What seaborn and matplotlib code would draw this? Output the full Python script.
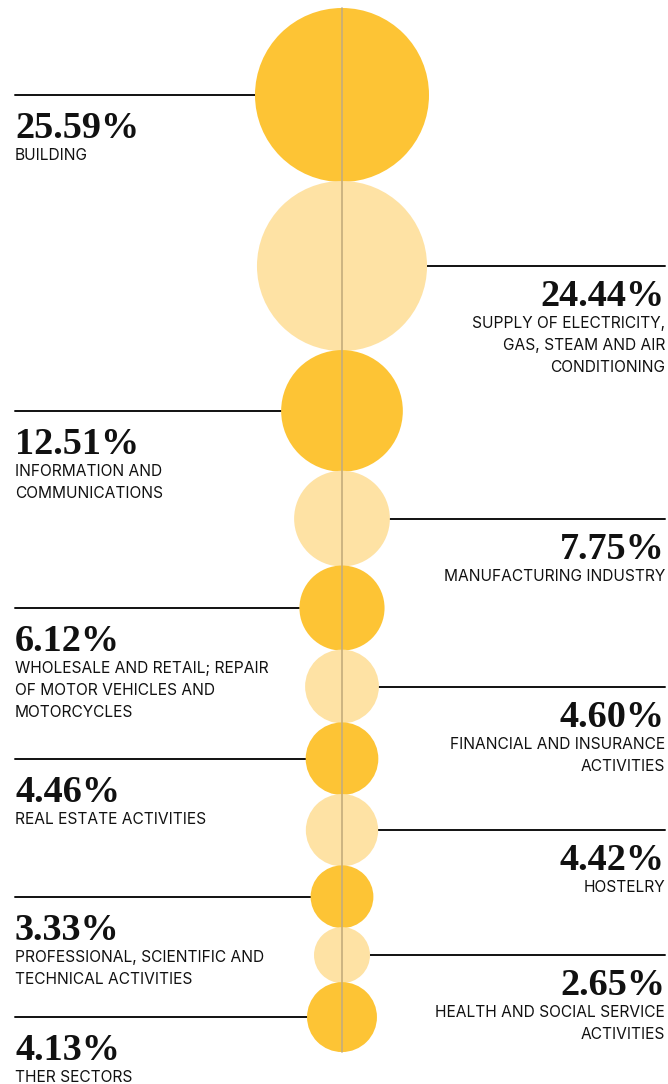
import numpy as np
import pandas as pd
import matplotlib
matplotlib.use("Agg")
import matplotlib.pyplot as plt
import seaborn as sns

# ---- data ----
sectors = [
    "BUILDING",
    "SUPPLY OF ELECTRICITY,\nGAS, STEAM AND AIR\nCONDITIONING",
    "INFORMATION AND\nCOMMUNICATIONS",
    "MANUFACTURING INDUSTRY",
    "WHOLESALE AND RETAIL; REPAIR\nOF MOTOR VEHICLES AND\nMOTORCYCLES",
    "FINANCIAL AND INSURANCE\nACTIVITIES",
    "REAL ESTATE ACTIVITIES",
    "HOSTELRY",
    "PROFESSIONAL, SCIENTIFIC AND\nTECHNICAL ACTIVITIES",
    "HEALTH AND SOCIAL SERVICE\nACTIVITIES",
    "THER SECTORS",
]
shares = [25.59, 24.44, 12.51, 7.75, 6.12, 4.60, 4.46, 4.42, 3.33, 2.65, 4.13]
sides = ["left", "right", "left", "right", "left", "right", "left", "right", "left", "right", "left"]
tones = ["dark", "light", "dark", "light", "dark", "light", "dark", "light", "dark", "light", "dark"]

DARK = "#FDC435"
LIGHT = "#FEE2A4"
W, H, DPI = 668, 1084, 100
CX = 342
K = 17.2  # pixel radius per sqrt(percentage)

sns.set_theme(style="white")
fig = plt.figure(figsize=(W / DPI, H / DPI), dpi=DPI)
ax = fig.add_axes([0, 0, 1, 1])

radii = K * np.sqrt(np.array(shares))
centers = []
y = 8.0
for i, r in enumerate(radii):
    if i == 0:
        y = 8 + r
    else:
        y = y + radii[i - 1] + r - 1.0
    centers.append(y)
centers = np.array(centers)

df = pd.DataFrame({"x": CX, "y": centers, "tone": tones, "r": radii})
# marker size in pt^2: diameter in points = 2*r px * 72/DPI
df["s"] = (2 * df["r"] * 72 / DPI) ** 2
sns.scatterplot(data=df, x="x", y="y", hue="tone", palette={"dark": DARK, "light": LIGHT},
                s=df["s"].values, linewidth=0, legend=False, ax=ax, zorder=2)
ax.set_xlim(0, W)
ax.set_ylim(H, 0)
ax.axis("off")

# vertical axis line
ax.plot([CX, CX], [8, centers[-1] + radii[-1]], color="#C4AC7C", lw=1.2, zorder=3)

pct_font = dict(family="Liberation Serif", weight="bold", size=27.5, color="#111111")
lab_font = dict(family=["Inter", "DejaVu Sans"], size=11.2, color="#111111")

for sec, v, side, cy, r in zip(sectors, shares, sides, centers, radii):
    if side == "left":
        ax.plot([15, CX - r], [cy, cy], color="#111111", lw=1.4, zorder=1)
        ax.text(15, cy + 43, f"{v:.2f}%", ha="left", va="baseline", **pct_font)
        for j, line in enumerate(sec.split("\n")):
            ax.text(15, cy + 65 + 22 * j, line, ha="left", va="baseline", **lab_font)
    else:
        ax.plot([CX + r, 665], [cy, cy], color="#111111", lw=1.4, zorder=1)
        ax.text(665, cy + 40, f"{v:.2f}%", ha="right", va="baseline", **pct_font)
        for j, line in enumerate(sec.split("\n")):
            ax.text(665, cy + 62 + 22 * j, line, ha="right", va="baseline", **lab_font)

fig.savefig("out.png", dpi=DPI)
